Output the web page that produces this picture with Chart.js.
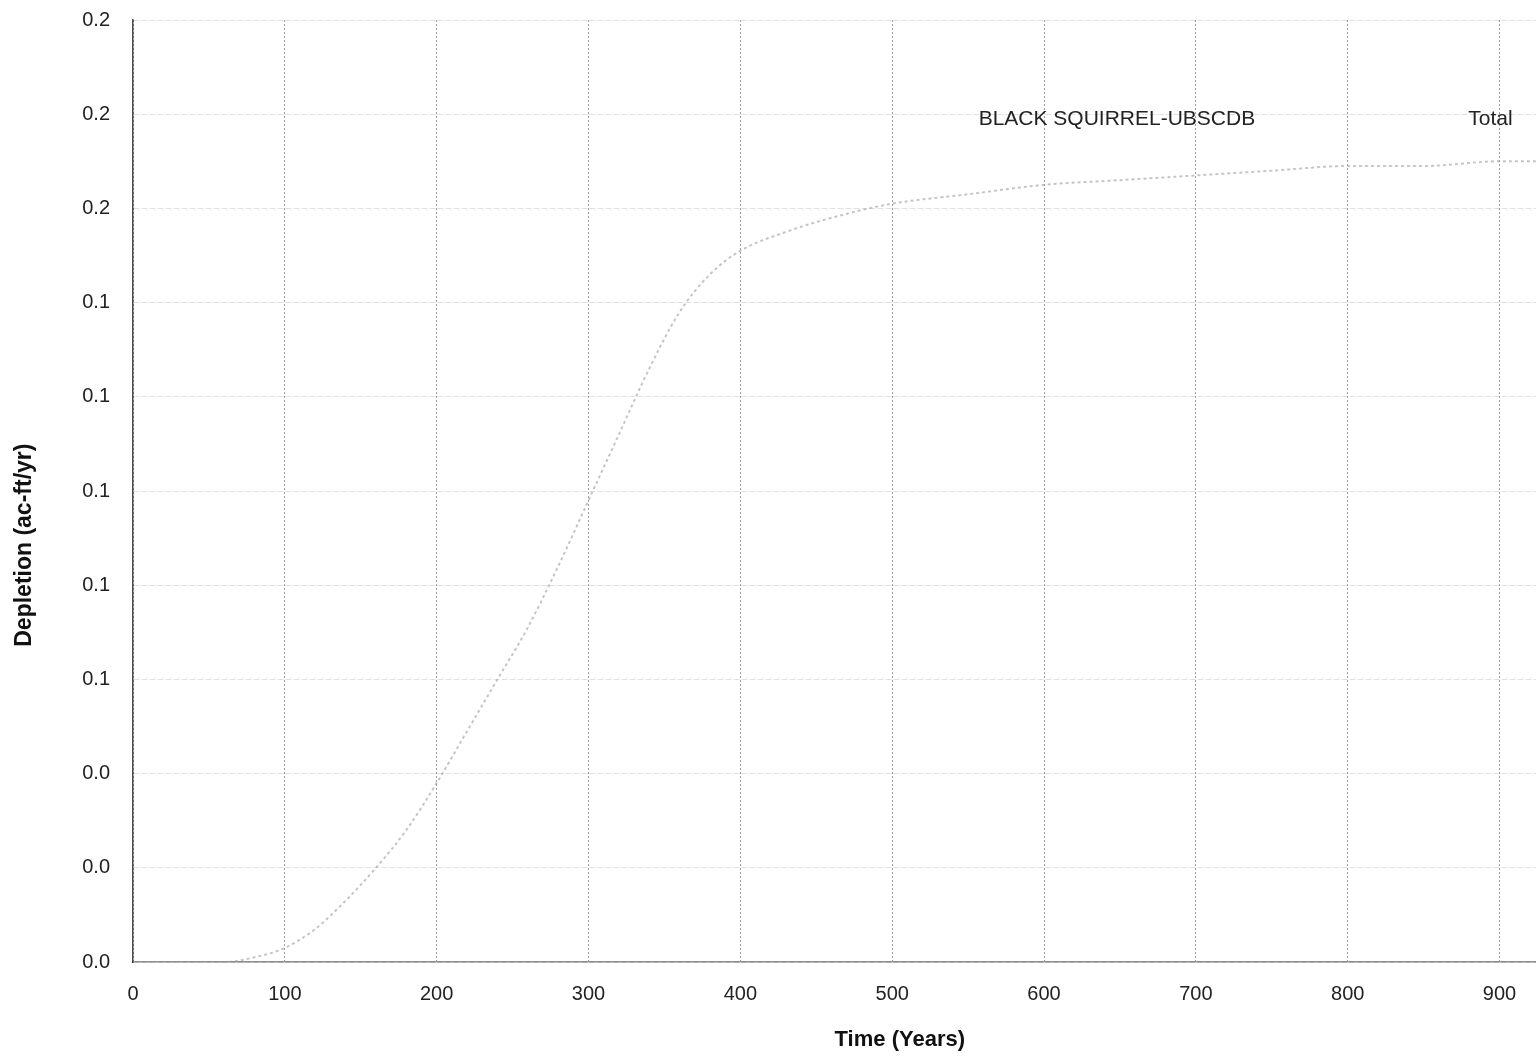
<!DOCTYPE html>
<html>
<head>
<meta charset="utf-8">
<script src="https://cdn.jsdelivr.net/npm/chart.js@4.4.0/dist/chart.umd.min.js"></script>
<style>
  html, body { margin: 0; padding: 0; background: #ffffff; }
  #wrap { width: 1536px; height: 1061px; }
</style>
</head>
<body>
<div id="wrap"><canvas id="c" width="1536" height="1061"></canvas></div>
<script>
// ---- data ----
const years = [0, 60, 80, 100, 120, 140, 160, 180, 200, 220, 240, 260, 280, 300, 320, 340, 360, 380, 400, 430, 460, 500, 550, 600, 650, 700, 750, 800, 850, 900, 924];
const blackSquirrel = [0, 0, 0.001, 0.003, 0.007, 0.013, 0.020, 0.028, 0.038, 0.049, 0.060, 0.071, 0.084, 0.098, 0.112, 0.126, 0.138, 0.146, 0.151, 0.155, 0.158, 0.161, 0.163, 0.165, 0.166, 0.167, 0.168, 0.169, 0.169, 0.170, 0.170];
const total = [0, 0, 0.001, 0.003, 0.007, 0.013, 0.020, 0.028, 0.038, 0.049, 0.060, 0.071, 0.084, 0.098, 0.112, 0.126, 0.138, 0.146, 0.151, 0.155, 0.158, 0.161, 0.163, 0.165, 0.166, 0.167, 0.168, 0.169, 0.169, 0.170, 0.170];
const seriesLabels = ["BLACK SQUIRREL-UBSCDB", "Total"];
const xTickValues = [0, 100, 200, 300, 400, 500, 600, 700, 800, 900];
const xTitle = "Time (Years)";
const yTitle = "Depletion (ac-ft/yr)";

const FONT = "'Liberation Sans', Arial, sans-serif";

const toPts = (ys) => years.map((x, i) => ({ x: x, y: ys[i] }));

const overlay = {
  id: 'overlay',
  afterDraw(chart) {
    const ctx = chart.ctx;
    const xs = chart.scales.x, ys = chart.scales.y;
    ctx.save();
    // legend labels inside plot, top right
    ctx.fillStyle = '#222';
    ctx.font = '21px ' + FONT;
    ctx.textBaseline = 'middle';
    ctx.textAlign = 'center';
    const legY = ys.getPixelForValue(0.18) + 5;
    ctx.fillText(chart.data.datasets[0].label, xs.getPixelForValue(648), legY);
    ctx.fillText(chart.data.datasets[1].label, xs.getPixelForValue(894), legY);
    // axis titles
    ctx.font = 'bold 22px ' + FONT;
    ctx.fillStyle = '#111';
    ctx.fillText(xTitle, xs.getPixelForValue(505), 1040);
    ctx.font = 'bold 23px ' + FONT;
    ctx.translate(25, ys.getPixelForValue(0.0885));
    ctx.rotate(-Math.PI / 2);
    ctx.fillText(yTitle, 0, 0);
    ctx.restore();
  }
};

new Chart(document.getElementById('c'), {
  type: 'line',
  data: {
    datasets: [
      { label: seriesLabels[0], data: toPts(blackSquirrel), borderColor: 'rgba(150,150,150,0.45)', borderWidth: 2, borderDash: [3, 3], pointRadius: 0, cubicInterpolationMode: 'monotone' },
      { label: seriesLabels[1], data: toPts(total), borderColor: 'rgba(170,170,170,0.35)', borderWidth: 1.5, borderDash: [2, 4], pointRadius: 0, cubicInterpolationMode: 'monotone' }
    ]
  },
  options: {
    responsive: false,
    animation: false,
    layout: { padding: { top: 20, right: 0, left: 0, bottom: 0 } },
    plugins: { legend: { display: false }, tooltip: { enabled: false } },
    scales: {
      x: {
        type: 'linear', min: 0, max: 924,
        afterBuildTicks(scale) { scale.ticks = xTickValues.map(v => ({ value: v })); },
        afterFit(scale) { scale.height = 99; scale.paddingLeft = 0; scale.paddingRight = 0; },
        grid: { color: 'rgba(0,0,0,0.38)', borderDash: [5, 4], drawTicks: false, tickLength: 0 },
        border: { display: true, color: 'rgba(0,0,0,0.45)', dash: [2, 2], width: 1.5 },
        ticks: { padding: 20, color: '#222', font: { family: FONT, size: 20 }, maxRotation: 0 }
      },
      y: {
        type: 'linear', min: 0, max: 0.2,
        ticks: { stepSize: 0.02, padding: 23, color: '#222', font: { family: FONT, size: 20 },
          callback: (v) => Number(v).toFixed(1) },
        afterFit(scale) { scale.width = 133; scale.paddingTop = 0; scale.paddingBottom = 0; },
        grid: { color: 'rgba(0,0,0,0.12)', drawTicks: false, tickLength: 0 },
        border: { display: true, color: 'rgba(0,0,0,0.7)', width: 1.5, dash: [6, 2] }
      }
    }
  },
  plugins: [overlay]
});
</script>
</body>
</html>
